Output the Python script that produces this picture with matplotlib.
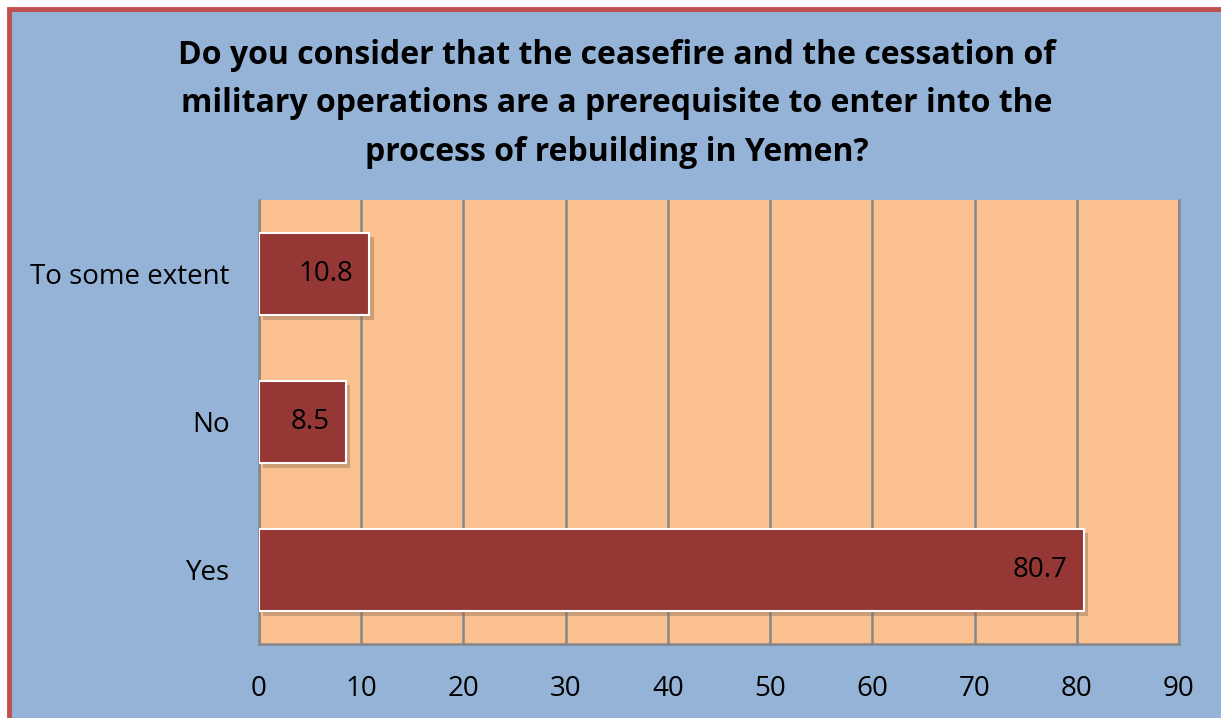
import matplotlib.pyplot as plt
import matplotlib.patheffects as pe
from matplotlib.patches import Rectangle

# Data
categories = ['Yes', 'No', 'To some extent']
values = [80.7, 8.5, 10.8]
x_ticks = [0, 10, 20, 30, 40, 50, 60, 70, 80, 90]

bg_blue = '#95B3D7'
peach = '#FAC090'
bar_red = '#953735'
grid_grey = '#878787'

plt.rcParams['font.family'] = ['Open Sans', 'DejaVu Sans']

fig = plt.figure(figsize=(12.21, 7.18), dpi=100)
fig.patch.set_facecolor('white')

# outer frame: red border on top/left only (right and bottom run off the picture)
frame = Rectangle((9 / 1221, -0.05), 1.1, 1.05 - 9 / 718, transform=fig.transFigure,
                  facecolor=bg_blue, edgecolor='#C0504D', linewidth=3.5, zorder=-5)
fig.patches.append(frame)

ax = fig.add_axes([259 / 1221, 1 - 644 / 718, 920 / 1221, 444 / 718])
ax.set_facecolor(peach)

ypos = range(len(categories))
bars = ax.barh(ypos, values, height=0.56, color=bar_red, edgecolor='white',
               linewidth=1.5, zorder=3)
for b in bars:
    b.set_path_effects([pe.SimplePatchShadow(offset=(3, -3), shadow_rgbFace='#8a6a50', alpha=0.4),
                        pe.Normal()])

for y, v in zip(ypos, values):
    ax.text(v - 1.6, y, f'{v}', ha='right', va='center', fontsize=20, color='black', zorder=4)

ax.set_xlim(0, 90)
ax.set_ylim(-0.5, len(categories) - 0.5)
ax.set_xticks(x_ticks)
ax.set_xticklabels([str(t) for t in x_ticks], fontsize=20)
ax.set_yticks(list(ypos))
ax.set_yticklabels(categories, fontsize=20)
ax.tick_params(axis='both', length=0)
ax.tick_params(axis='x', pad=22)
ax.tick_params(axis='y', pad=21)

ax.grid(axis='x', color=grid_grey, linewidth=1.8, zorder=1)
ax.set_axisbelow(True)
ax.spines['top'].set_visible(False)
for side in ['left', 'bottom', 'right']:
    ax.spines[side].set_color(grid_grey)
    ax.spines[side].set_linewidth(1.8)

fig.text(0.505, 1 - 104 / 718,
         'Do you consider that the ceasefire and the cessation of\n'
         'military operations are a prerequisite to enter into the\n'
         'process of rebuilding in Yemen?',
         ha='center', va='center', fontsize=23, fontweight='bold', linespacing=1.62)

fig.savefig('out.png', dpi=100, facecolor=fig.get_facecolor())
